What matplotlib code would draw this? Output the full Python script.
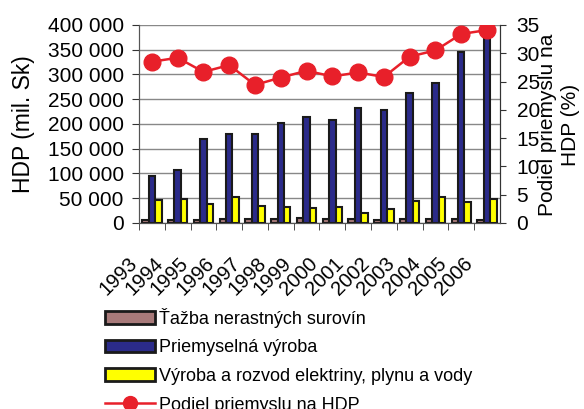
import numpy as np
import matplotlib.pyplot as plt
import matplotlib.transforms as mtransforms
from matplotlib.patches import Patch
from matplotlib.lines import Line2D

plt.rcParams['font.family'] = ['Liberation Sans', 'DejaVu Sans']

# data
years = ['1993', '1994', '1995', '1996', '1997', '1998', '1999',
         '2000', '2001', '2002', '2003', '2004', '2005', '2006']
tazba = [6000, 6500, 6500, 7500, 7000, 7000, 10000,
         7000, 7000, 6500, 7000, 7000, 7000, 6000]
vyroba = [95500, 107000, 169000, 179000, 179000, 201000, 213000,
          207000, 232000, 227500, 262000, 282000, 346000, 385000]
energia = [46500, 48000, 38500, 52000, 35000, 33000, 31000,
           31500, 21000, 28500, 44500, 52000, 43000, 48500]
podiel = [28.5, 29.2, 26.7, 27.9, 24.4, 25.7, 26.9,
          25.9, 26.6, 25.8, 29.4, 30.5, 33.4, 34.1]

fig = plt.figure(figsize=(5.84, 4.09), dpi=100)
ax = fig.add_axes([0.238, 0.455, 0.618, 0.484])
ax2 = ax.twinx()

x = np.arange(len(years))
w = 0.25
ax.bar(x - w, tazba, w, color='#a87a7a', edgecolor='#1a1a1a', linewidth=1.5, zorder=3)
ax.bar(x, vyroba, w, color='#2b2b8a', edgecolor='#1a1a1a', linewidth=1.5, zorder=3)
ax.bar(x + w, energia, w, color='#ffff00', edgecolor='#1a1a1a', linewidth=1.5, zorder=3)

ax2.plot(x, podiel, color='#e8202a', marker='o', markersize=12, linewidth=1.8, zorder=4)

ax.set_xlim(-0.5, len(years) - 0.5)
ax.set_ylim(0, 400000)
ax2.set_ylim(0, 35)
yt = np.arange(0, 400001, 50000)
ax.set_yticks(yt)
ax.set_yticklabels(['{:,}'.format(v).replace(',', ' ') for v in yt], fontsize=15)
ax2.set_yticks(np.arange(0, 36, 5))
ax2.tick_params(axis='y', labelsize=15, length=4, color='#333333', pad=8)
ax.tick_params(axis='y', length=5, color='#333333', pad=6)
ax.grid(axis='y', color='#888888', linewidth=1, zorder=0)
ax.set_axisbelow(True)

ax.set_xticks(x - 0.5, minor=True)
ax.set_xticks(x)
ax.set_xticklabels(years, rotation=45, ha='right', va='top', fontsize=14.5)
ax.tick_params(axis='x', which='major', length=0, pad=22)
ax.tick_params(axis='x', which='minor', length=5, color='#333333')
shift = mtransforms.ScaledTranslation(-11 / 100, 0, fig.dpi_scale_trans)
for lbl in ax.get_xticklabels():
    lbl.set_transform(lbl.get_transform() + shift)

for a in (ax, ax2):
    a.spines['top'].set_visible(False)
    a.spines['left'].set_color('#555555')
    a.spines['right'].set_color('#333333')
    a.spines['bottom'].set_color('#555555')

ax.set_ylabel('HDP (mil. Sk)', fontsize=16.5, labelpad=9)
fig.text(559 / 584, 1 - 125 / 409, 'Podiel priemyslu na\nHDP (%)', rotation=90,
         ha='center', va='center', fontsize=15, linespacing=1.3)

handles = [
    Patch(facecolor='#a87a7a', edgecolor='#1a1a1a', linewidth=2),
    Patch(facecolor='#2b2b8a', edgecolor='#1a1a1a', linewidth=2),
    Patch(facecolor='#ffff00', edgecolor='#1a1a1a', linewidth=2),
    Line2D([], [], color='#e8202a', marker='o', markersize=10, linewidth=1.8),
]
labels = ['Ťažba nerastných surovín', 'Priemyselná výroba',
          'Výroba a rozvod elektriny, plynu a vody', 'Podiel priemyslu na HDP']
fig.legend(handles, labels, loc='upper left', bbox_to_anchor=(0.167, 0.265),
           frameon=False, fontsize=13, handlelength=2.8, handleheight=0.7,
           handletextpad=0.2, labelspacing=0.64, borderaxespad=0)

fig.savefig('out.png', dpi=100)
